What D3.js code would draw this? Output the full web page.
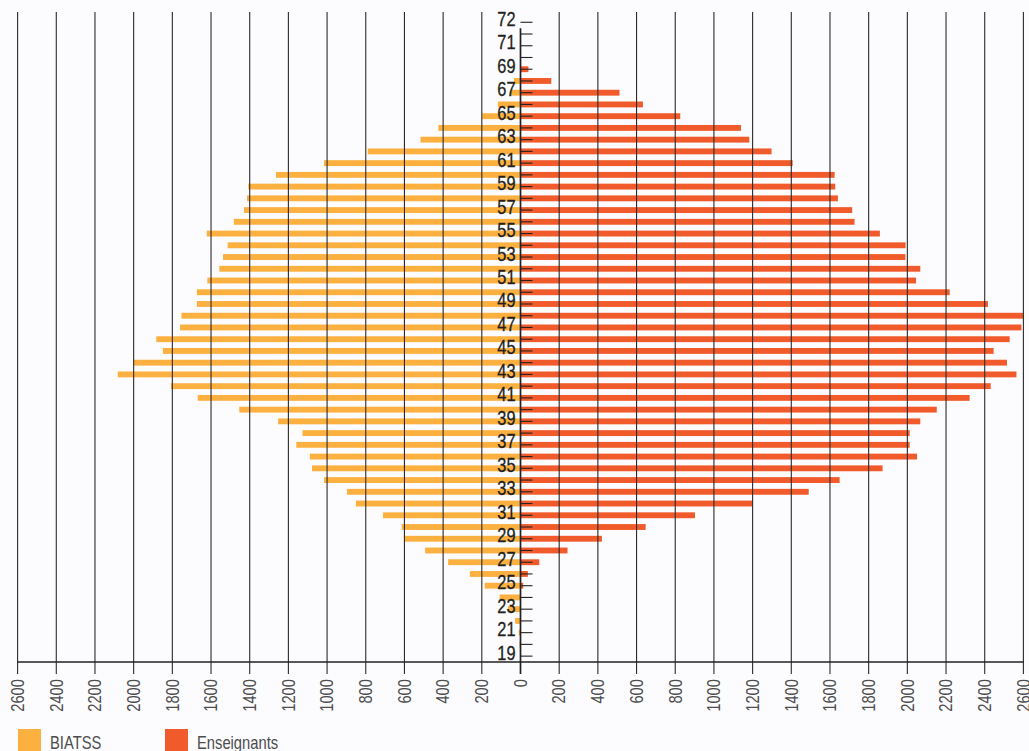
<!DOCTYPE html>
<html>
  <head>
    <meta charset="utf-8">
    <title>Pyramide des âges</title>
    <script src="https://d3js.org/d3.v7.min.js"></script>
    <style>
      body { margin: 0; background: #fcfcfe; }
      svg { display: block; font-family: "Liberation Sans", Arial, sans-serif; }
    </style>
  </head>
  <body>
    <svg id="chart" width="1029" height="751"></svg>
    <script>
      // ages, youngest first (top band is labelled 72 in the source)
      ages = [19, 20, 21, 22, 23, 24, 25, 26, 27, 28, 29, 30, 31, 32, 33, 34, 35, 36, 37, 38,
              39, 40, 41, 42, 43, 44, 45, 46, 47, 48, 49, 50, 51, 52, 53, 54, 55, 56, 57, 58,
              59, 60, 61, 62, 63, 64, 65, 66, 67, 68, 69, 70, 71, 72, 73];
      biatss = [0, 5, 9, 28, 65, 108, 185, 262, 374, 493, 598, 614, 711, 851, 897, 1016, 1078, 1089, 1159, 1127,
                1253, 1454, 1669, 1807, 2082, 2000, 1849, 1883, 1760, 1753, 1673, 1673, 1619, 1557, 1538, 1514, 1622, 1482, 1430, 1414,
                1407, 1264, 1016, 790, 517, 425, 198, 117, 49, 34, 0, 0, 0, 0, 0];
      enseignants = [0, 0, 0, 0, 0, 0, 14, 38, 97, 243, 421, 647, 902, 1198, 1490, 1650, 1872, 2050, 2012, 2012,
                     2067, 2152, 2322, 2431, 2564, 2515, 2446, 2529, 2590, 2600, 2417, 2219, 2045, 2067, 1990, 1991, 1858, 1727, 1715, 1641,
                     1627, 1624, 1407, 1298, 1183, 1140, 826, 633, 512, 159, 41, 0, 0, 0, 0];
      ageTicks = [19, 21, 23, 25, 27, 29, 31, 33, 35, 37, 39, 41, 43, 45, 47, 49, 51, 53, 55, 57, 59, 61, 63, 65, 67, 69, 71, 73];
      ageLabels = ["19", "21", "23", "25", "27", "29", "31", "33", "35", "37", "39", "41", "43", "45", "47", "49", "51", "53", "55", "57", "59", "61", "63", "65", "67", "69", "71", "72"];
      countTicks = [0, 200, 400, 600, 800, 1000, 1200, 1400, 1600, 1800, 2000, 2200, 2400, 2600];
      seriesNames = ["BIATSS", "Enseignants"];
      colours = ["#fbb040", "#f15a2b"];

      svg = d3.select("#chart");
      axisY = 662;
      narrow = " scale(0.82,1)"; // no condensed face installed, squeeze the sans

      // scales: biatss goes left (negative), enseignants right
      x = d3.scaleLinear()
        .domain([-2600, 2600])
        .range([17.6, 1023.4]);
      y = d3.scaleBand()
        .domain(ages)
        .range([axisY, 16.4])
        .paddingInner(0.5)
        .paddingOuter(0.25);
      step = y.step();
      mid = function(a) { return y(a) + y.bandwidth() / 2; };

      // bars
      svg.append("g")
        .selectAll("rect")
          .data(ages)
        .enter().append("rect")
          .attr("x", function(d, i) { return x(-biatss[i]); })
          .attr("y", function(d) { return y(d); })
          .attr("width", function(d, i) { return x(0) - x(-biatss[i]); })
          .attr("height", y.bandwidth())
          .attr("fill", colours[0]);
      svg.append("g")
        .selectAll("rect")
          .data(ages)
        .enter().append("rect")
          .attr("x", x(0))
          .attr("y", function(d) { return y(d); })
          .attr("width", function(d, i) { return x(enseignants[i]) - x(0); })
          .attr("height", y.bandwidth())
          .attr("fill", colours[1]);

      // vertical grid, drawn over the bars
      gridValues = countTicks.filter(function(d) { return d > 0; });
      gridValues = gridValues.map(function(d) { return -d; }).concat(gridValues);
      svg.append("g")
        .selectAll("line")
          .data(gridValues)
        .enter().append("line")
          .attr("x1", function(d) { return x(d); })
          .attr("x2", function(d) { return x(d); })
          .attr("y1", 12)
          .attr("y2", axisY + 12)
          .attr("stroke", "#2a2a2a")
          .attr("stroke-width", 1.1);

      // horizontal axis line
      svg.append("line")
        .attr("x1", x(-2600))
        .attr("x2", x(2600))
        .attr("y1", axisY)
        .attr("y2", axisY)
        .attr("stroke", "#222")
        .attr("stroke-width", 1.3);

      // centre axis with age ticks
      svg.append("line")
        .attr("x1", x(0))
        .attr("x2", x(0))
        .attr("y1", mid(73) + step / 2)
        .attr("y2", axisY + 12)
        .attr("stroke", "#222")
        .attr("stroke-width", 1.7);
      svg.append("g")
        .selectAll("line")
          .data(ages)
        .enter().append("line")
          .attr("x1", x(0))
          .attr("x2", x(0) + 12)
          .attr("y1", function(d) { return mid(d); })
          .attr("y2", function(d) { return mid(d); })
          .attr("stroke", "#222")
          .attr("stroke-width", 1.1);

      // age labels
      svg.append("g")
        .selectAll("text")
          .data(ageTicks)
        .enter().append("text")
          .attr("transform", function(d) { return "translate(" + (x(0) - 5) + "," + (mid(d) - 3.5) + ")" + narrow; })
          .attr("dy", "0.35em")
          .attr("text-anchor", "end")
          .attr("font-size", 20)
          .attr("fill", "#231f20")
          .attr("stroke", "#231f20")
          .attr("stroke-width", 0.3)
          .text(function(d, i) { return ageLabels[i]; });

      // count labels, rotated
      countValues = countTicks.filter(function(d) { return d > 0; }).map(function(d) { return -d; }).reverse().concat(countTicks);
      svg.append("g")
        .selectAll("text")
          .data(countValues)
        .enter().append("text")
          .attr("transform", function(d) { return "translate(" + x(d) + "," + (axisY + 17) + ") rotate(-90)" + narrow; })
          .attr("dy", "0.35em")
          .attr("text-anchor", "end")
          .attr("font-size", 18)
          .attr("fill", "#4d4d4d")
          .text(function(d) { return Math.abs(d); });

      // legend
      legendX = [18, 165];
      legend = svg.append("g")
        .selectAll("g")
          .data(seriesNames)
        .enter().append("g")
          .attr("transform", function(d, i) { return "translate(" + legendX[i] + ",729)"; });
      legend.append("rect")
        .attr("width", 23)
        .attr("height", 23)
        .attr("fill", function(d, i) { return colours[i]; });
      legend.append("text")
        .attr("transform", "translate(32,20)" + narrow)
        .attr("font-size", 18)
        .attr("fill", "#4d4d4d")
        .text(function(d) { return d; });
    </script>
  </body>
</html>
